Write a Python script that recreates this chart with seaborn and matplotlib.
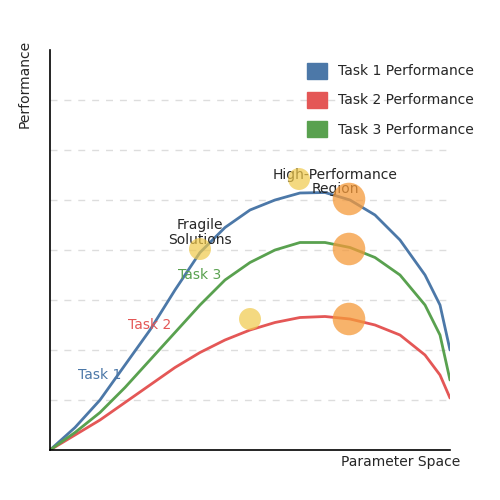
import matplotlib
matplotlib.use("Agg")
import matplotlib.pyplot as plt
import seaborn as sns
import pandas as pd
from matplotlib.patches import Patch

xs = [0, 0.5, 1, 1.5, 2, 2.5, 3, 3.5, 4, 4.5, 5, 5.5, 6, 6.5, 7, 7.5, 7.8, 8]
task1 = [0, 0.45, 1.0, 1.7, 2.4, 3.2, 3.95, 4.45, 4.8, 5.0, 5.14, 5.15, 5.0, 4.7, 4.2, 3.5, 2.9, 2.0]
task3 = [0, 0.35, 0.75, 1.25, 1.8, 2.35, 2.9, 3.4, 3.75, 4.0, 4.15, 4.15, 4.05, 3.85, 3.5, 2.9, 2.3, 1.4]
task2 = [0, 0.3, 0.6, 0.95, 1.3, 1.65, 1.95, 2.2, 2.4, 2.55, 2.65, 2.67, 2.62, 2.5, 2.3, 1.9, 1.5, 1.04]
fragile_x = [3, 4, 4.98]
fragile_y = [4.02, 2.62, 5.42]
high_x = [5.98, 5.98, 5.98]
high_y = [5.02, 4.02, 2.62]
names = ["Task 1 Performance", "Task 2 Performance", "Task 3 Performance"]
colors = ["#4c78a8", "#e45756", "#59a14f"]

sns.set_style("white")
fig = plt.figure(figsize=(5, 5), dpi=100)
ax = fig.add_axes([0.1, 0.1, 0.8, 0.8])
for y, c in zip([task1, task2, task3], colors):
    sns.lineplot(x=xs, y=y, color=c, lw=2, ax=ax)
sns.scatterplot(x=fragile_x, y=fragile_y, s=250, color="#f0c94a", alpha=0.7, edgecolor="none", ax=ax, zorder=5)
sns.scatterplot(x=high_x, y=high_y, s=550, color="#f59a3a", alpha=0.75, edgecolor="none", ax=ax, zorder=5)
ax.set_xlim(0, 8)
ax.set_ylim(0, 8)
ax.set_xticks([]); ax.set_yticks([])
for g in range(1, 8):
    ax.axhline(g, color="#dddddd", ls=(0, (5, 5)), lw=1, zorder=0)
for s in ["top", "right"]:
    ax.spines[s].set_visible(False)
for s in ["left", "bottom"]:
    ax.spines[s].set_color("black")
    ax.spines[s].set_linewidth(1.2)
ax.text(1, 1.5, "Task 1", color=colors[0], ha="center", va="center", fontsize=10)
ax.text(2, 2.5, "Task 2", color=colors[1], ha="center", va="center", fontsize=10)
ax.text(3, 3.5, "Task 3", color=colors[2], ha="center", va="center", fontsize=10)
ax.text(3, 4.35, "Fragile\nSolutions", ha="center", va="center", fontsize=10, linespacing=1.0)
ax.text(5.7, 5.35, "High-Performance\nRegion", ha="center", va="center", fontsize=10, linespacing=1.0)
fig.text(0.92, 0.09, "Parameter Space", ha="right", va="top", fontsize=10)
fig.text(0.05, 0.92, "Performance", rotation=90, ha="center", va="top", fontsize=10)
ax.legend(handles=[Patch(color=c, label=n) for c, n in zip(colors, names)],
          loc="upper right", bbox_to_anchor=(1.09, 1.0), frameon=False, fontsize=10,
          handlelength=1.4, handleheight=1.4, labelspacing=0.95)
fig.savefig("out.png", dpi=100)
